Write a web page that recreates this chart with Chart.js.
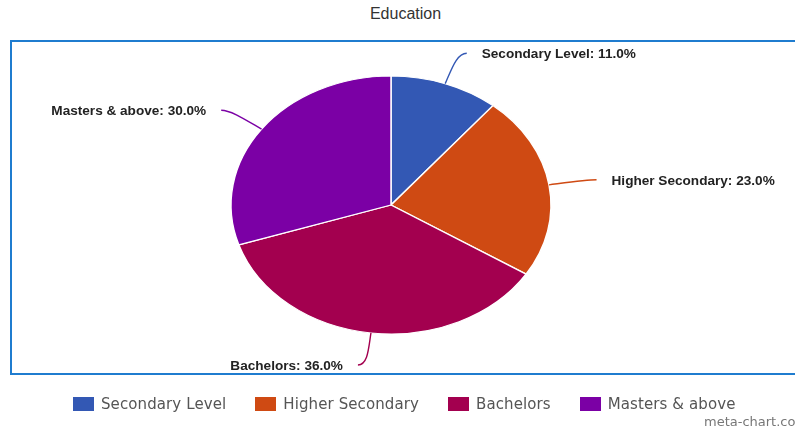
<!DOCTYPE html>
<html>
<head>
<meta charset="utf-8">
<title>Education</title>
<script src="https://cdn.jsdelivr.net/npm/chart.js@4.4.1/dist/chart.umd.min.js"></script>
<style>
    html, body { margin: 0; padding: 0; background: #fff; }
    #wrap { position: relative; width: 795px; height: 428px; overflow: hidden; }
    #title { position: absolute; left: 0; width: 811px; top: 5px; text-align: center;
             font: 16px "Liberation Sans", Arial, sans-serif; color: #333; }
    #frame { position: absolute; left: 10px; top: 40px; width: 810px; height: 331px;
             border: 2.5px solid #1f7ccf; }
    #pie { position: absolute; left: 0; top: 0; }
    #legend { position: absolute; left: 73px; top: 395px; display: flex; align-items: center;
              font: 15px "DejaVu Sans", sans-serif; color: #555; }
    #legend .item { display: flex; align-items: center; margin-right: 29px; letter-spacing: 0.1px; }
    #legend .box { width: 21px; height: 14px; margin-right: 7px; }
    #credit { position: absolute; left: 704px; top: 414px; font: 13px "DejaVu Sans", sans-serif;
              color: #777; white-space: nowrap; }
</style>
</head>
<body>
<div id="wrap">
    <div id="frame"></div>
    <div id="title">Education</div>
    <canvas id="pie" width="795" height="428"></canvas>
    <div id="legend"></div>
    <div id="credit">meta-chart.com</div>
</div>
<script>
// ข้อมูลของกราฟ
const labels = ['Secondary Level', 'Higher Secondary', 'Bachelors', 'Masters & above'];
const values = [11, 23, 36, 30];
const colors = ['#3358b4', '#cf4a13', '#a3004f', '#7b00a5'];

const total = values.reduce((a, b) => a + b, 0);
const stretchX = 160 / 129; // วงกลมถูกยืดเป็นวงรีตามแนวนอน

// ยืดส่วน slice ของ pie ให้เป็นวงรี
const stretchPlugin = {
    id: 'stretch',
    beforeDatasetsDraw(chart) {
        const { ctx, chartArea } = chart;
        const cx = (chartArea.left + chartArea.right) / 2;
        const cy = (chartArea.top + chartArea.bottom) / 2;
        ctx.save();
        ctx.translate(cx, cy);
        ctx.scale(stretchX, 1);
        ctx.translate(-cx, -cy);
    },
    afterDatasetsDraw(chart) {
        chart.ctx.restore();
    }
};

// เส้นชี้และป้ายชื่อของแต่ละ slice
const labelPlugin = {
    id: 'sliceLabels',
    afterDraw(chart) {
        const ctx = chart.ctx;
        const arcs = chart.getDatasetMeta(0).data;
        arcs.forEach((arc, i) => {
            const { x, y, startAngle, endAngle, outerRadius } = arc.getProps(['x', 'y', 'startAngle', 'endAngle', 'outerRadius'], true);
            const a = (startAngle + endAngle) / 2;
            const pt = (r) => ({ x: x + Math.cos(a) * r * stretchX, y: y + Math.sin(a) * r });
            const side = Math.cos(a) >= 0 ? 1 : -1;
            const p0 = pt(outerRadius);
            const c1 = pt(outerRadius * 1.12);
            const end = pt(outerRadius * 1.25);
            end.x += side * 8;

            ctx.save();
            ctx.strokeStyle = colors[i];
            ctx.lineWidth = 1.4;
            ctx.beginPath();
            ctx.moveTo(p0.x, p0.y);
            ctx.bezierCurveTo(c1.x, c1.y, end.x - side * 10, end.y, end.x, end.y);
            ctx.stroke();

            const pct = (values[i] / total * 100).toFixed(1);
            ctx.fillStyle = '#222';
            ctx.font = 'bold 13.6px "Liberation Sans", Arial, sans-serif';
            ctx.textBaseline = 'middle';
            ctx.textAlign = side > 0 ? 'left' : 'right';
            ctx.fillText(labels[i] + ': ' + pct + '%', end.x + side * 15, end.y + 1);
            ctx.restore();
        });
    }
};

const ctx = document.getElementById('pie').getContext('2d');
const myChart = new Chart(ctx, {
    type: 'pie',
    data: {
        labels: labels,
        datasets: [{
            data: values,
            backgroundColor: colors,
            borderColor: '#ffffff',
            borderWidth: 1.2,
            clip: false
        }]
    },
    options: {
        responsive: false,
        animation: false,
        radius: 129,
        layout: { padding: { top: 76, bottom: 94, left: 100, right: 113 } },
        plugins: {
            legend: { display: false },
            title: { display: false },
            tooltip: { enabled: false }
        }
    },
    plugins: [stretchPlugin, labelPlugin]
});

// legend แบบ HTML สร้างจาก labels และ colors
const legendEl = document.getElementById('legend');
labels.forEach((name, i) => {
    const item = document.createElement('div');
    item.className = 'item';
    const box = document.createElement('span');
    box.className = 'box';
    box.style.background = colors[i];
    const text = document.createElement('span');
    text.textContent = name;
    item.appendChild(box);
    item.appendChild(text);
    legendEl.appendChild(item);
});
</script>
</body>
</html>
